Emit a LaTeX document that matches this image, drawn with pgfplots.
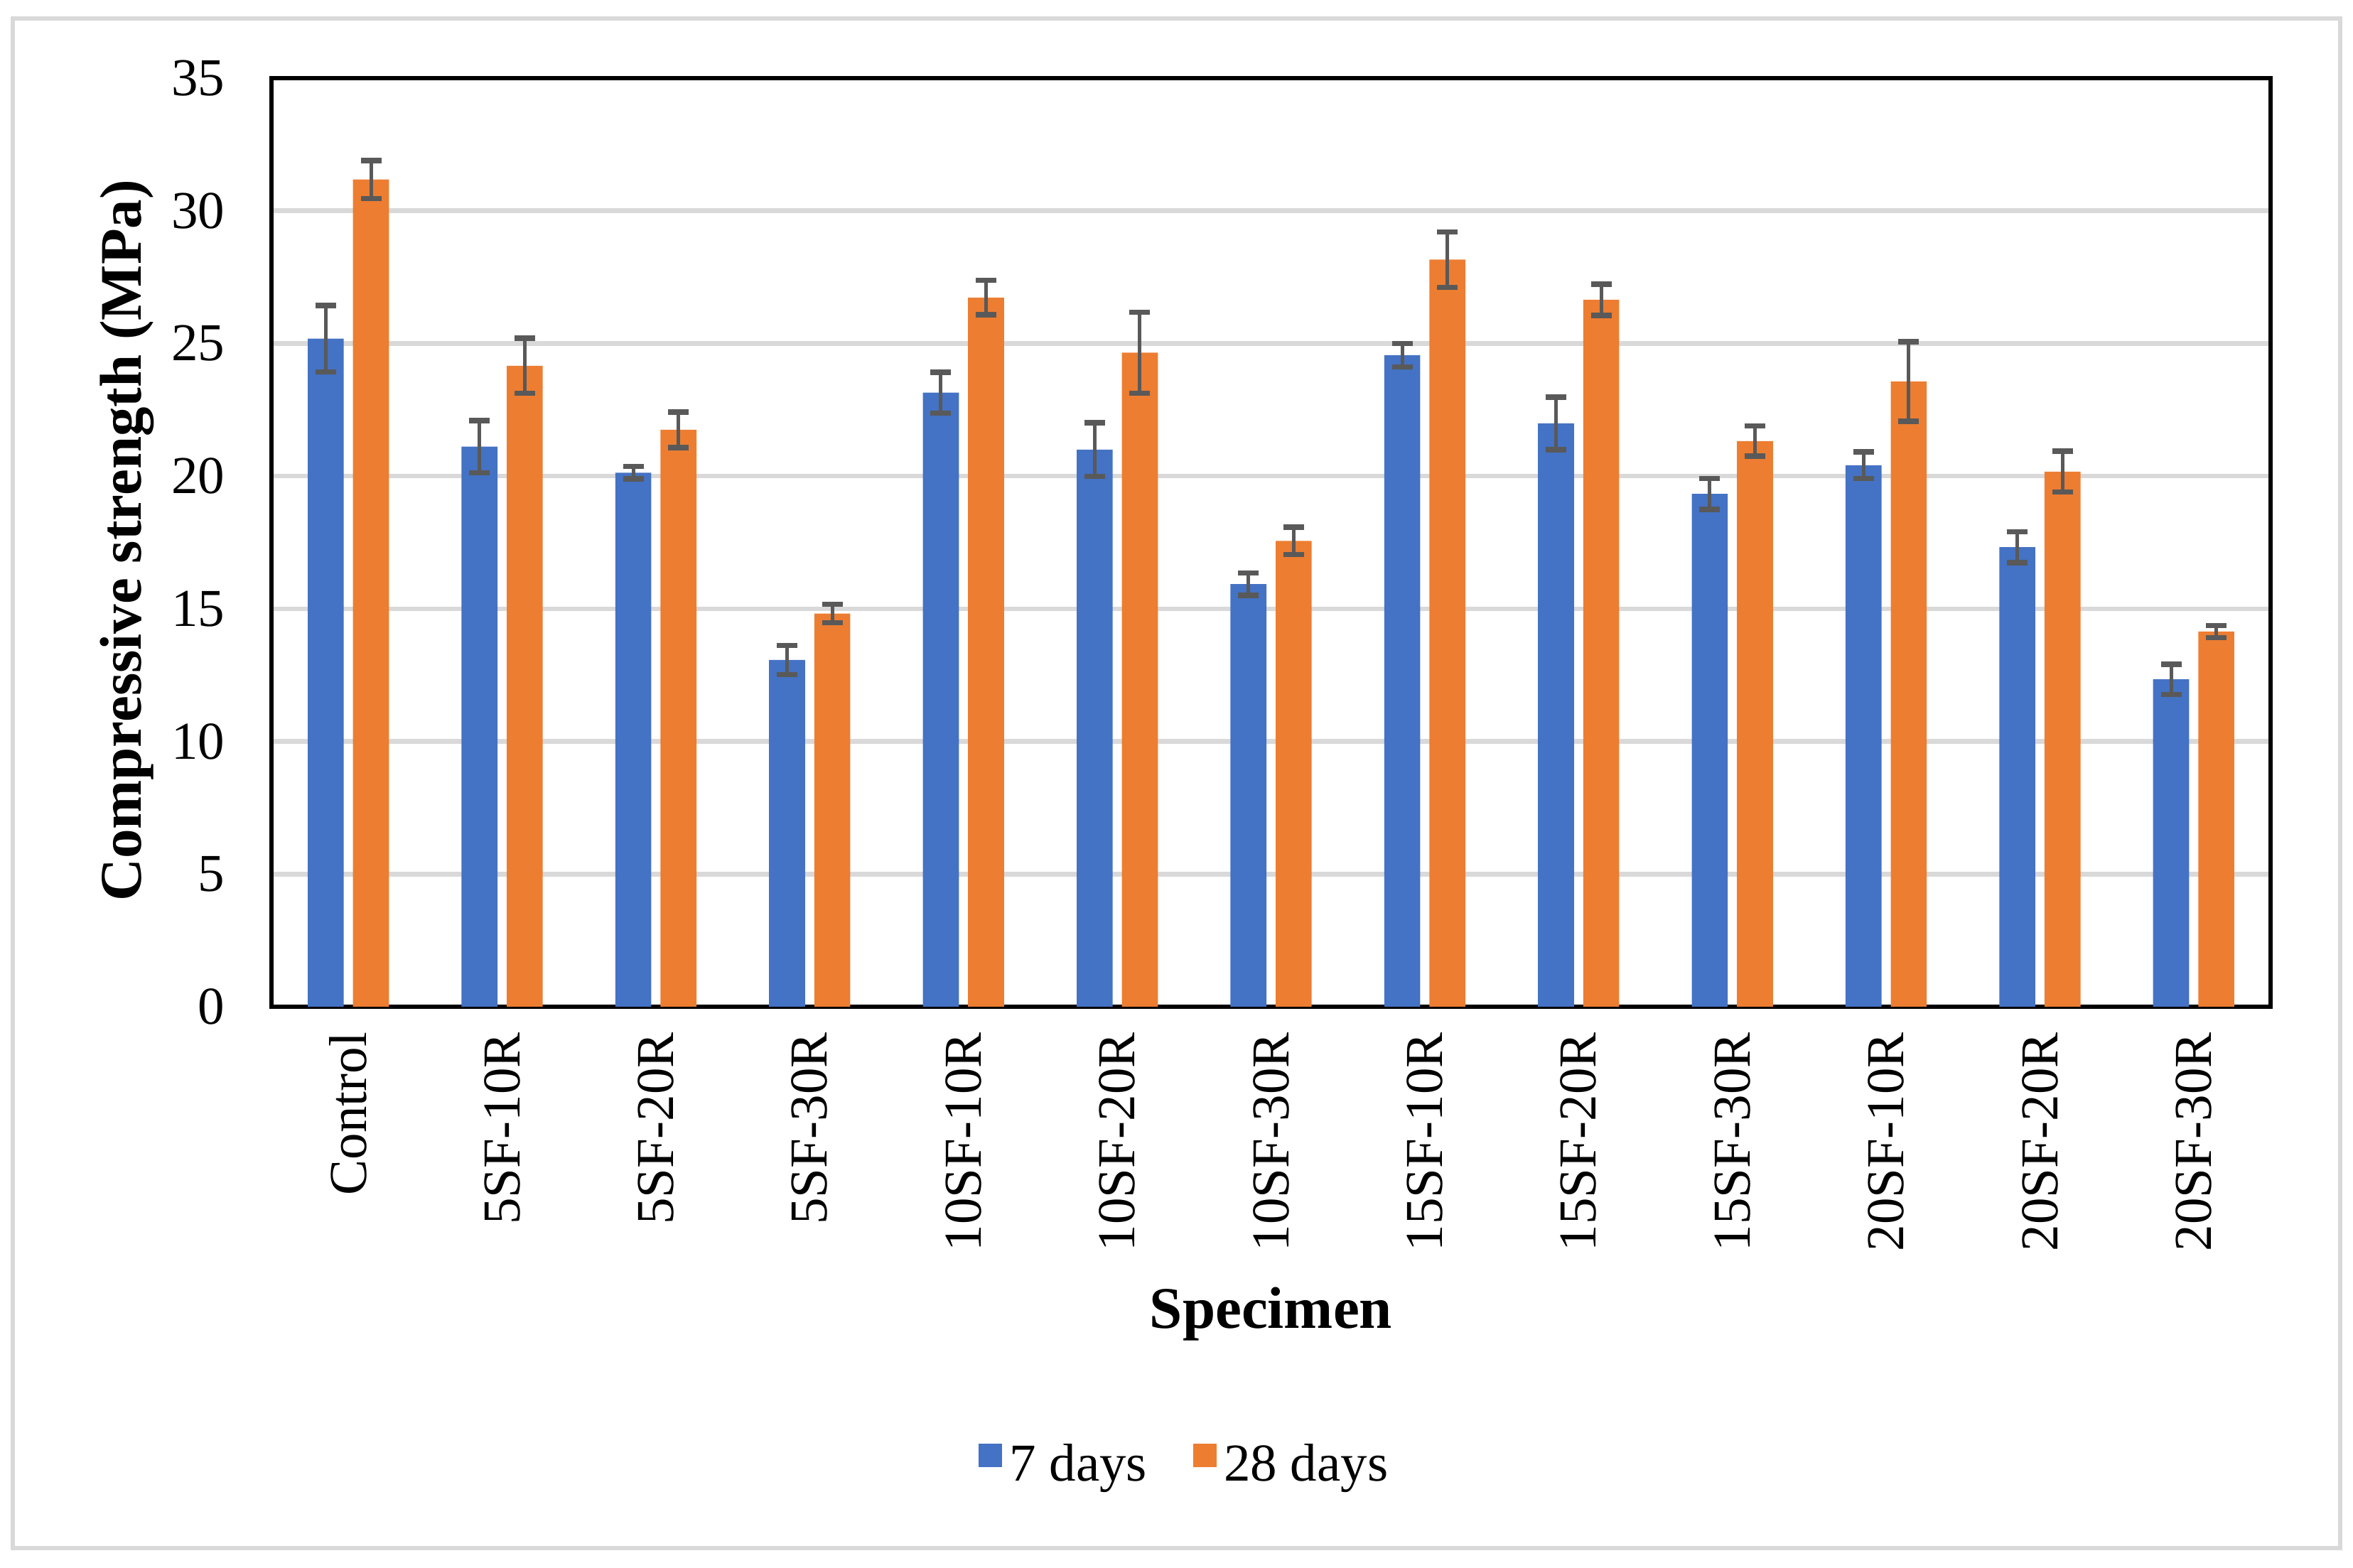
\documentclass[border=0pt]{standalone}
\usepackage{fontspec}
\setmainfont{Liberation Serif}
\usepackage{pgfplots}
\usepackage{pgfplotstable}
\pgfplotsset{compat=1.18}

\definecolor{sevenday}{HTML}{4472C4}
\definecolor{twentyeight}{HTML}{ED7D31}
\definecolor{errgray}{HTML}{595959}
\definecolor{gridgray}{HTML}{D9D9D9}

% idx, 7-day mean/err, 28-day mean/err (MPa)
\pgfplotstableread{
x  a      ea    b      eb
0  25.18  1.25  31.18  0.72
1  21.11  0.98  24.16  1.04
2  20.13  0.23  21.75  0.67
3  13.07  0.55  14.82  0.35
4  23.15  0.77  26.73  0.65
5  21.00  1.01  24.65  1.52
6  15.93  0.42  17.56  0.52
7  24.56  0.44  28.16  1.04
8  21.99  0.99  26.65  0.59
9  19.33  0.58  21.32  0.57
10 20.41  0.50  23.57  1.50
11 17.32  0.58  20.17  0.77
12 12.34  0.57  14.14  0.23
}\strengthdata

\begin{document}
\begin{tikzpicture}
\useasboundingbox (0,0) rectangle (662.2bp,441.4bp);
\draw[gridgray, line width=1.2bp] (3.6bp,5.6bp) rectangle (658.6bp,436.2bp);
\begin{axis}[
    at={(76.4bp,158bp)}, anchor=south west,
    scale only axis,
    width=562.6bp, height=261.4bp,
    xmin=-0.5, xmax=12.5,
    ymin=0, ymax=35,
    ytick={0,5,...,35},
    xtick={0,...,12},
    xticklabels={Control,5SF-10R,5SF-20R,5SF-30R,10SF-10R,10SF-20R,10SF-30R,15SF-10R,15SF-20R,15SF-30R,20SF-10R,20SF-20R,20SF-30R},
    major tick length=0pt,
    ymajorgrids,
    major grid style={color=gridgray, line width=1.3bp},
    axis line style={black, line width=1.3bp},
    /pgf/number format/assume math mode=true,
    tick label style={font=\fontsize{15bp}{18bp}\selectfont, inner sep=0pt},
    yticklabel style={anchor=east},
    yticklabel shift=13bp,
    xticklabel style={rotate=90, anchor=east},
    xticklabel shift=7bp,
    xlabel={Specimen},
    ylabel={Compressive strength (MPa)},
    label style={font=\fontsize{16.6bp}{20bp}\selectfont\bfseries},
    xlabel style={at={(0.5,-0.346)}, anchor=base},
    ylabel style={at={(-0.0722,0.502)}, anchor=center},
    ybar, bar width=0.234,
    legend style={at={(0.458,-0.494)}, anchor=center, draw=none,
        font=\fontsize{15bp}{18bp}\selectfont,
        legend columns=-1,
        /tikz/every even column/.append style={column sep=11bp}},
    error bars/error bar style={errgray, line width=1bp},
    error bars/error mark options={errgray, line width=1.5bp, mark size=2.9bp, rotate=90},
]
\addplot[fill=sevenday, draw=none, bar shift=-0.147,
    legend image code/.code={\fill[sevenday] (-1.3bp,-0.5bp) rectangle (5.3bp,6.1bp);},
    error bars/.cd, y dir=both, y explicit]
    table[x=x, y=a, y error=ea]{\strengthdata};
\addplot[fill=twentyeight, draw=none, bar shift=0.147,
    legend image code/.code={\fill[twentyeight] (-1.3bp,-0.5bp) rectangle (5.3bp,6.1bp);},
    error bars/.cd, y dir=both, y explicit]
    table[x=x, y=b, y error=eb]{\strengthdata};
\legend{7 days,28 days}
\end{axis}
\end{tikzpicture}
\end{document}
